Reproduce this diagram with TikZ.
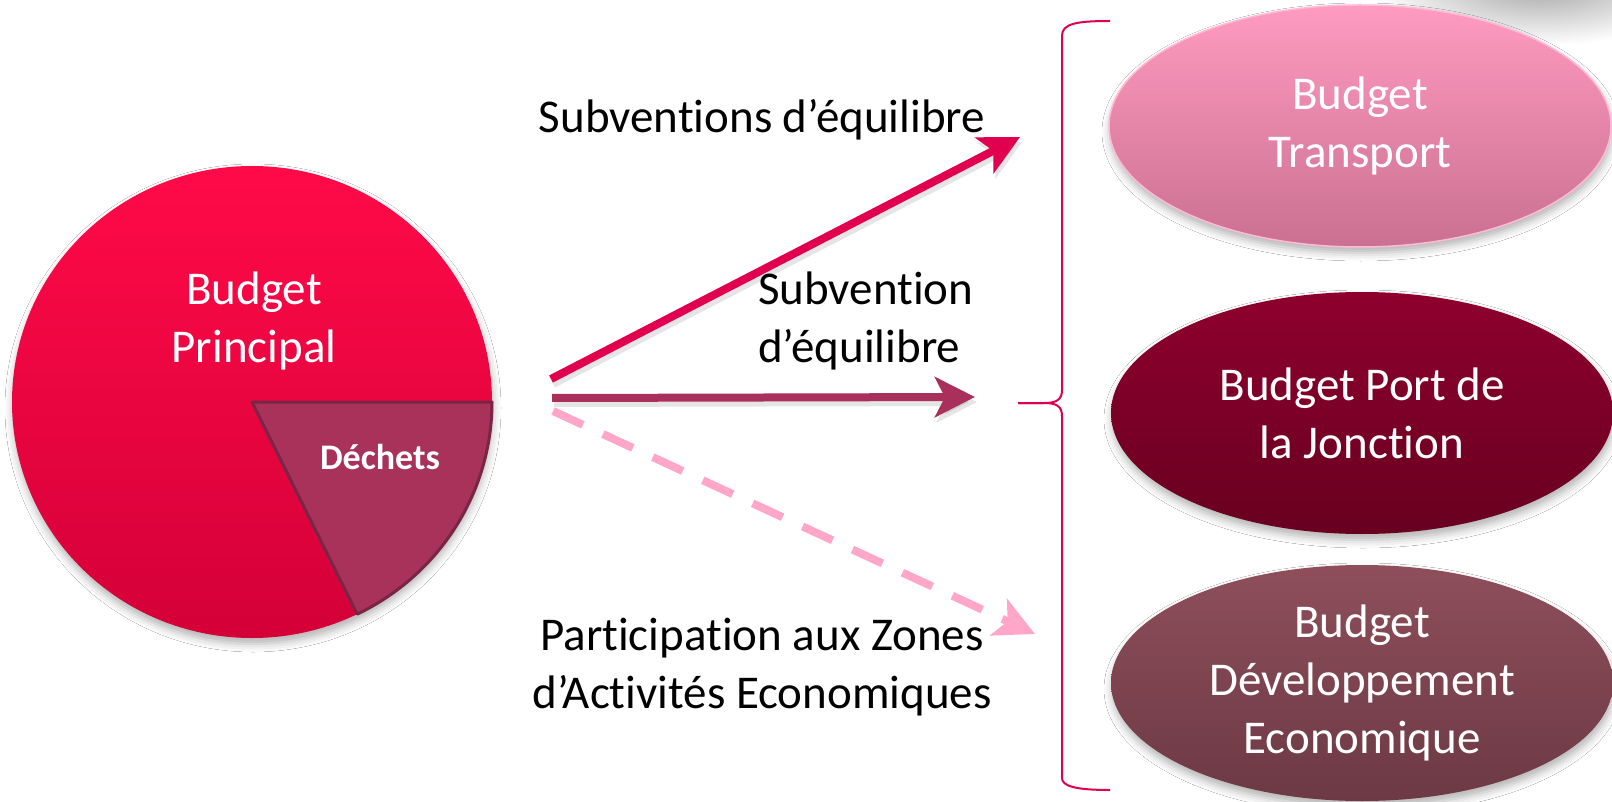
\documentclass[tikz,border=0pt]{standalone}
\usepackage{fontspec}
\setmainfont{Carlito}[Ligatures=NoCommon]
\usetikzlibrary{arrows.meta,shapes.geometric,shadows.blur}
\definecolor{pieTop}{HTML}{FF0A48}
\definecolor{pieBot}{HTML}{D40038}
\definecolor{wedgeFill}{HTML}{A8325A}
\definecolor{wedgeLine}{HTML}{7A2545}
\definecolor{arrRed}{HTML}{E0004D}
\definecolor{arrMauve}{HTML}{A8305A}
\definecolor{arrPink}{HTML}{FFA6C9}
\definecolor{eOneTop}{HTML}{FF9BC0}
\definecolor{eOneBot}{HTML}{CA7090}
\definecolor{eTwoTop}{HTML}{8E002E}
\definecolor{eTwoBot}{HTML}{680020}
\definecolor{eThreeTop}{HTML}{8E4F5B}
\definecolor{eThreeBot}{HTML}{6C3944}
\begin{document}
\begin{tikzpicture}[x=1pt,y=-1pt,
  bigtxt/.style={font=\fontsize{47}{58}\selectfont, align=center, text=white, inner sep=0pt},
  lbl/.style={font=\fontsize{47}{58}\selectfont, text=black, inner sep=0pt},
  softshadow/.style={blur shadow={shadow xshift=1pt, shadow yshift=-6pt, shadow blur radius=8pt, shadow opacity=30}},
  budgetbox/.style={ellipse, minimum width=502pt, minimum height=242pt, inner sep=0pt, bigtxt, softshadow},
  conn/.style={line width=8pt, line cap=butt},
  tipA/.style={-{Stealth[length=40pt,width=40pt,inset=10pt]}},
  shadowcopy/.style={line width=8pt, black, opacity=0.10, transform canvas={shift={(2pt,-5pt)}}},
  bracestyle/.style={draw=arrRed, line width=2pt},
]
\useasboundingbox (0,0) rectangle (1612,802);
\fill[white] (0,0) rectangle (1612,802);
% gray shade in the top right corner
\shade[inner color=black!35, outer color=white] (1540,-15) ellipse [x radius=170, y radius=60];

% pie
\coordinate (pc) at (252,402);
\shade[top color=pieTop, bottom color=pieBot, softshadow] (pc) ellipse [x radius=240, y radius=236];
\filldraw[fill=wedgeFill, draw=wedgeLine, line width=3pt, line join=round]
  (pc) -- ++(240,0) arc[start angle=0, end angle=64, x radius=240, y radius=236] -- cycle;
\node[bigtxt] (bp) at (254,321) {Budget\\Principal};
\node[font=\fontsize{36}{42}\selectfont\bfseries, text=white, inner sep=0pt] (dech) at (380,457) {Déchets};

% ellipses
\node[budgetbox, top color=eOneTop, bottom color=eOneBot, draw=eOneTop!70!white, line width=1.5pt] (bt) at (1360,126) {Budget\\Transport};
\node[budgetbox, top color=eTwoTop, bottom color=eTwoBot] (bj) at (1362,413) {Budget Port de\\la Jonction};
\node[budgetbox, top color=eThreeTop, bottom color=eThreeBot, minimum height=236pt] (bd) at (1362,683) {Budget\\Développement\\Economique};

% arrows
\coordinate (a1s) at (551,379);
\coordinate (a1e) at (1020,137);
\coordinate (a2s) at (552,398);
\coordinate (a2e) at (975,397);
\coordinate (a3s) at (553,411);
\coordinate (a3e) at (1035,634);
\draw[shadowcopy, tipA] (a1s) -- (a1e);
\draw[shadowcopy, tipA] (a2s) -- (a2e);
\draw[conn, tipA, arrRed] (a1s) -- (a1e);
\draw[conn, tipA, arrMauve] (a2s) -- (a2e);
\draw[conn, tipA, arrPink, dash pattern=on 33pt off 22pt] (a3s) -- (a3e);

% labels
\node[lbl] (l1) at (762,120) {Subventions d’équilibre};
\node[lbl, align=left, anchor=west] (l2) at (758,321) {Subvention\\d’équilibre};
\node[lbl, align=center] (l3) at (762,667) {Participation aux Zones\\d’Activités Economiques};

% brace
\coordinate (brtip) at (1018,403);
\draw[bracestyle] (1110,21) .. controls (1075,21) and (1062,24) .. (1062,36) -- (1062,390)
  .. controls (1062,400) and (1056,403) .. (1044,403) -- (brtip);
\draw[bracestyle] (brtip) -- (1044,403) .. controls (1056,403) and (1062,406) .. (1062,416)
  -- (1062,778) .. controls (1062,786) and (1075,790) .. (1110,790);
\end{tikzpicture}
\end{document}
